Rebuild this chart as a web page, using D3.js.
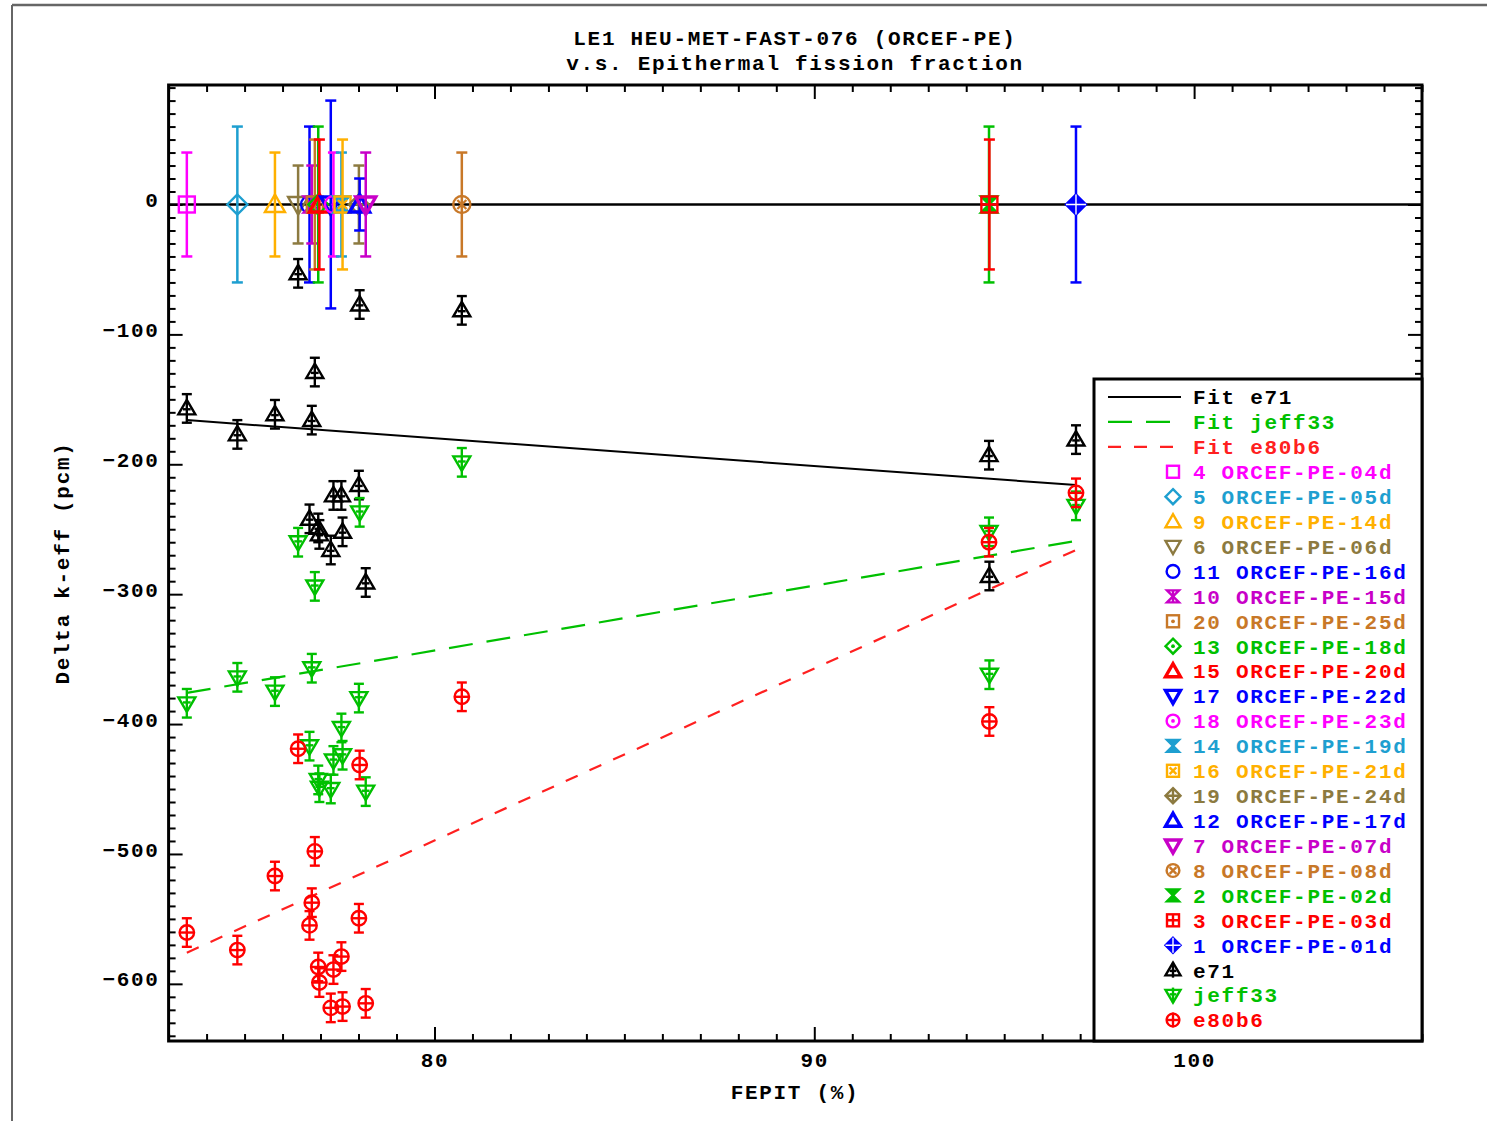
<!DOCTYPE html>
<html>
<head>
<meta charset="utf-8">
<script src="https://cdn.jsdelivr.net/npm/d3@7"></script>
<style>
  body { margin: 0; background: #fff; }
  svg text { font-family: "Liberation Mono", "DejaVu Sans Mono", monospace; font-weight: bold; }
</style>
</head>
<body>
<svg id="chart" width="1487" height="1121"></svg>
<script>
// ---- data (legend order) ----
const labels = [
  "4 ORCEF-PE-04d", "5 ORCEF-PE-05d", "9 ORCEF-PE-14d", "6 ORCEF-PE-06d",
  "11 ORCEF-PE-16d", "10 ORCEF-PE-15d", "20 ORCEF-PE-25d", "13 ORCEF-PE-18d",
  "15 ORCEF-PE-20d", "17 ORCEF-PE-22d", "18 ORCEF-PE-23d", "14 ORCEF-PE-19d",
  "16 ORCEF-PE-21d", "19 ORCEF-PE-24d", "12 ORCEF-PE-17d", "7 ORCEF-PE-07d",
  "8 ORCEF-PE-08d", "2 ORCEF-PE-02d", "3 ORCEF-PE-03d", "1 ORCEF-PE-01d"
];
const fepit = [73.48, 74.81, 75.80, 76.41, 76.71, 76.77, 76.85, 76.94, 76.97, 77.27,
               77.34, 77.55, 77.58, 78.01, 78.03, 78.19, 80.72, 94.60, 94.61, 96.89];
const expUncert = [40, 60, 40, 30, 60, 30, 50, 60, 50, 80, 40, 40, 50, 30, 20, 40, 40, 60, 50, 60];
const e71Delta = [-157, -177, -161.5, -53, -242, -166, -129, -249, -254, -266,
                  -224, -224, -252, -216, -77, -291, -81.5, -193, -286, -181];
const jeff33Delta = [-384, -364, -375, -260, -417, -357, -294, -443, -449, -450,
                     -428, -403, -424, -380, -237, -452, -198.5, -252, -362, -232];
const e80b6Delta = [-560.5, -574, -517, -419, -555, -537.5, -498, -587, -599, -618.5,
                    -589, -579, -617.5, -549.5, -431.5, -615, -379, -260, -398, -222];
const calcUncert = 11;

const markerShapes = ["square", "diamond", "triUp", "triDown", "circle", "hourglass",
                      "square", "diamond", "triUp", "triDown", "circle", "hourglass",
                      "square", "diamond", "triUp", "triDown", "circle", "hourglass",
                      "square", "diamond"];
const markerDecor = ["", "", "", "", "", "open", "dot", "dot", "bold", "bold",
                     "dot", "fill", "x", "plus", "bold", "bold", "x", "fill", "plus", "fillplus"];
const markerColors = ["#ff00ff", "#1e9fd0", "#ffb000", "#8c7a40", "#0000ff", "#c800c8",
                      "#c87828", "#00c000", "#ff0000", "#0000ff", "#ff00ff", "#1e9fd0",
                      "#ffb000", "#8c7a40", "#0000ff", "#c800c8", "#c87828", "#00c000",
                      "#ff0000", "#0000ff"];

// linear fits, endpoints [FEPIT, delta]
const fitE71 = [[73.48, -166], [96.89, -216]];
const fitJeff33 = [[73.48, -376], [96.89, -259]];
const fitE80b6 = [[73.48, -576], [96.89, -266]];

const xMajorTicks = [80, 90, 100];
const yMajorTicks = [-600, -500, -400, -300, -200, -100, 0];

// ---- layout ----
const svg = d3.select("#chart");
const x = d3.scaleLinear().domain([73, 106]).range([168.6, 1422]);
const y = d3.scaleLinear().domain([-644, 92]).range([1041, 85]);
const [x0, x1] = x.range();
const [y1, y0] = y.range();

// page frame
svg.append("line").attr("x1", 12).attr("x2", 1487).attr("y1", 5).attr("y2", 5)
  .attr("stroke", "#666").attr("stroke-width", 2.5);
svg.append("line").attr("x1", 12).attr("x2", 12).attr("y1", 5).attr("y2", 1121)
  .attr("stroke", "#666").attr("stroke-width", 2);

// title
const title = svg.append("g").attr("font-size", 21).attr("text-anchor", "middle")
  .attr("letter-spacing", "1.7px");
title.append("text").attr("x", 795).attr("y", 38).attr("dy", "0.35em")
  .text("LE1 HEU-MET-FAST-076 (ORCEF-PE)");
title.append("text").attr("x", 795).attr("y", 63).attr("dy", "0.35em")
  .text("v.s. Epithermal fission fraction");

// axes
const xMinor = d3.range(73, 107, 1).filter(v => !xMajorTicks.includes(v));
const yMinor = d3.range(-640, 91, 10).filter(v => !yMajorTicks.includes(v));

function styleAxis(g) {
  g.select(".domain").remove();
  g.selectAll(".tick line").attr("stroke", "#000").attr("stroke-width", 2);
  g.selectAll("text").attr("font-size", 21).attr("letter-spacing", "1.7px")
    .attr("fill", "#000").attr("font-family", "Liberation Mono, monospace");
}
svg.append("g").attr("transform", `translate(0,${y1})`)
  .call(d3.axisBottom(x).tickValues(xMajorTicks).tickSize(-14).tickPadding(11).tickFormat(d3.format("d")))
  .call(styleAxis);
svg.append("g").attr("transform", `translate(0,${y1})`)
  .call(d3.axisBottom(x).tickValues(xMinor).tickSize(-7).tickFormat(""))
  .call(styleAxis);
svg.append("g").attr("transform", `translate(0,${y0})`)
  .call(d3.axisTop(x).tickValues(xMajorTicks).tickSize(-14).tickFormat(""))
  .call(styleAxis);
svg.append("g").attr("transform", `translate(0,${y0})`)
  .call(d3.axisTop(x).tickValues(xMinor).tickSize(-7).tickFormat(""))
  .call(styleAxis);
svg.append("g").attr("transform", `translate(${x0},0)`)
  .call(d3.axisLeft(y).tickValues(yMajorTicks).tickSize(-14).tickPadding(9).tickFormat(d3.format("d")))
  .call(styleAxis)
  .call(g => g.selectAll("text").attr("dy", "0.1em"));
svg.append("g").attr("transform", `translate(${x0},0)`)
  .call(d3.axisLeft(y).tickValues(yMinor).tickSize(-7).tickFormat(""))
  .call(styleAxis);
svg.append("g").attr("transform", `translate(${x1},0)`)
  .call(d3.axisRight(y).tickValues(yMajorTicks).tickSize(-14).tickFormat(""))
  .call(styleAxis);
svg.append("g").attr("transform", `translate(${x1},0)`)
  .call(d3.axisRight(y).tickValues(yMinor).tickSize(-7).tickFormat(""))
  .call(styleAxis);

// frame
svg.append("rect").attr("x", x0).attr("y", y0).attr("width", x1 - x0).attr("height", y1 - y0)
  .attr("fill", "none").attr("stroke", "#000").attr("stroke-width", 3);

// axis titles
svg.append("text").attr("x", 795).attr("y", 1092).attr("dy", "0.35em")
  .attr("text-anchor", "middle").attr("font-size", 21).attr("letter-spacing", "1.7px")
  .text("FEPIT (%)");
svg.append("text").attr("transform", "translate(62,563) rotate(-90)").attr("dy", "0.35em")
  .attr("text-anchor", "middle").attr("font-size", 21).attr("letter-spacing", "1.7px")
  .text("Delta k-eff (pcm)");

// zero line
svg.append("line").attr("x1", x0).attr("x2", x1).attr("y1", y(0)).attr("y2", y(0))
  .attr("stroke", "#000").attr("stroke-width", 2.5);

// ---- marker drawing ----
function drawMarker(g, shape, decor, color, s) {
  const sw = decor === "bold" ? 3.4 : 2.4;
  const m = g.append("g").attr("fill", "none").attr("stroke", color).attr("stroke-width", sw);
  const fillIt = decor === "fill" || decor === "fillplus";
  let p;
  if (shape === "square") {
    p = m.append("rect").attr("x", -0.8 * s).attr("y", -0.8 * s).attr("width", 1.6 * s).attr("height", 1.6 * s);
  } else if (shape === "diamond") {
    p = m.append("path").attr("d", `M0,${-s}L${s},0L0,${s}L${-s},0Z`);
  } else if (shape === "triUp") {
    p = m.append("path").attr("d", `M${-s},${0.75 * s}L${s},${0.75 * s}L0,${-s}Z`);
  } else if (shape === "triDown") {
    p = m.append("path").attr("d", `M${-s},${-0.75 * s}L${s},${-0.75 * s}L0,${s}Z`);
  } else if (shape === "circle") {
    p = m.append("circle").attr("r", 0.85 * s);
  } else if (shape === "hourglass") {
    const h = 0.8 * s;
    p = m.append("path").attr("d", `M${-h},${-h}L${h},${-h}L${-h},${h}L${h},${h}Z`);
    if (decor === "open") {
      m.append("line").attr("x1", 0).attr("x2", 0).attr("y1", -h).attr("y2", h);
    }
  }
  if (fillIt) p.attr("fill", color);
  const d = 0.45 * s;
  if (decor === "dot") {
    m.append("circle").attr("r", 1.9).attr("fill", color).attr("stroke", "none");
  } else if (decor === "x") {
    m.append("path").attr("d", `M${-d},${-d}L${d},${d}M${-d},${d}L${d},${-d}`);
  } else if (decor === "plus") {
    m.append("path").attr("d", `M${-0.8 * s},0L${0.8 * s},0M0,${-0.8 * s}L0,${0.8 * s}`);
  } else if (decor === "fillplus") {
    m.append("path").attr("d", `M${-s},0L${s},0M0,${-s}L0,${s}`).attr("stroke", "#fff").attr("stroke-width", 1.4);
  }
  return m;
}

function errorBar(g, cx, yv, err, color, cap, sw) {
  const e = g.append("g").attr("stroke", color).attr("stroke-width", sw).attr("fill", "none");
  const ya = y(yv + err), yb = y(yv - err);
  e.append("line").attr("x1", cx).attr("x2", cx).attr("y1", ya).attr("y2", yb);
  e.append("line").attr("x1", cx - cap).attr("x2", cx + cap).attr("y1", ya).attr("y2", ya);
  e.append("line").attr("x1", cx - cap).attr("x2", cx + cap).attr("y1", yb).attr("y2", yb);
}

// calculated-result markers
function calcMarker(g, kind, color, s) {
  const m = g.append("g").attr("fill", "none").attr("stroke", color).attr("stroke-width", 2.4);
  if (kind === "e71") {
    m.append("path").attr("d", `M${-s},${0.7 * s}L${s},${0.7 * s}L0,${-s}Z`);
    m.append("line").attr("x1", -0.45 * s).attr("x2", 0.45 * s).attr("y1", 0.1 * s).attr("y2", 0.1 * s);
  } else if (kind === "jeff33") {
    m.append("path").attr("d", `M${-s},${-0.7 * s}L${s},${-0.7 * s}L0,${s}Z`);
    m.append("line").attr("x1", -0.45 * s).attr("x2", 0.45 * s).attr("y1", -0.1 * s).attr("y2", -0.1 * s);
  } else {
    m.append("circle").attr("r", 0.85 * s);
    m.append("line").attr("x1", -0.85 * s).attr("x2", 0.85 * s).attr("y1", 0).attr("y2", 0);
  }
  return m;
}

// ---- fit lines ----
const line = d3.line().x(d => x(d[0])).y(d => y(d[1]));
svg.append("path").datum(fitE71).attr("d", line).attr("fill", "none")
  .attr("stroke", "#000").attr("stroke-width", 2);
svg.append("path").datum(fitJeff33).attr("d", line).attr("fill", "none")
  .attr("stroke", "#00c000").attr("stroke-width", 2.2).attr("stroke-dasharray", "24,14");
svg.append("path").datum(fitE80b6).attr("d", line).attr("fill", "none")
  .attr("stroke", "#ff2020").attr("stroke-width", 2.2).attr("stroke-dasharray", "13,13");

// ---- experiments at zero with uncertainty ----
const expLayer = svg.append("g");
labels.forEach((lab, i) => {
  const cx = x(fepit[i]);
  errorBar(expLayer, cx, 0, expUncert[i], markerColors[i], 5.5, 2.5);
  drawMarker(expLayer.append("g").attr("transform", `translate(${cx},${y(0)})`),
    markerShapes[i], markerDecor[i], markerColors[i], 10);
});

// ---- calculated differences ----
const calcSeries = [
  { name: "e71", values: e71Delta, color: "#000000" },
  { name: "jeff33", values: jeff33Delta, color: "#00c000" },
  { name: "e80b6", values: e80b6Delta, color: "#ff0000" }
];
calcSeries.forEach(ser => {
  const layer = svg.append("g");
  ser.values.forEach((v, i) => {
    const cx = x(fepit[i]);
    errorBar(layer, cx, v, calcUncert, ser.color, 5, 2.4);
    calcMarker(layer.append("g").attr("transform", `translate(${cx},${y(v)})`), ser.name, ser.color, 8.5);
  });
});

// ---- legend ----
const lg = svg.append("g");
lg.append("rect").attr("x", 1094).attr("y", 379).attr("width", 1422 - 1094).attr("height", 1041 - 379)
  .attr("fill", "#fff").attr("stroke", "#000").attr("stroke-width", 3);
const rowY = i => 397 + i * 24.92;
const textX = 1193, markX = 1173;
const legText = (i, str, color) => lg.append("text").attr("x", textX).attr("y", rowY(i)).attr("dy", "0.35em")
  .attr("font-size", 21).attr("letter-spacing", "1.7px").attr("fill", color).text(str);

const fitLegend = [
  { label: "Fit e71", color: "#000", dash: null },
  { label: "Fit jeff33", color: "#00c000", dash: "24,14" },
  { label: "Fit e80b6", color: "#ff2020", dash: "13,13" }
];
fitLegend.forEach((f, i) => {
  const l = lg.append("line").attr("x1", 1108).attr("x2", 1181).attr("y1", rowY(i)).attr("y2", rowY(i))
    .attr("stroke", f.color).attr("stroke-width", 2.2);
  if (f.dash) l.attr("stroke-dasharray", f.dash);
  legText(i, f.label, f.color);
});
labels.forEach((lab, i) => {
  const r = i + 3;
  drawMarker(lg.append("g").attr("transform", `translate(${markX},${rowY(r)})`),
    markerShapes[i], markerDecor[i], markerColors[i], 7.5);
  legText(r, lab, markerColors[i]);
});
calcSeries.forEach((ser, k) => {
  const r = labels.length + 3 + k;
  const g = lg.append("g").attr("transform", `translate(${markX},${rowY(r)})`);
  calcMarker(g, ser.name, ser.color, 7.5);
  g.append("line").attr("x1", 0).attr("x2", 0).attr("y1", -7.5).attr("y2", 7.5)
    .attr("stroke", ser.color).attr("stroke-width", 2.4);
  legText(r, ser.name, ser.color);
});
</script>
</body>
</html>
